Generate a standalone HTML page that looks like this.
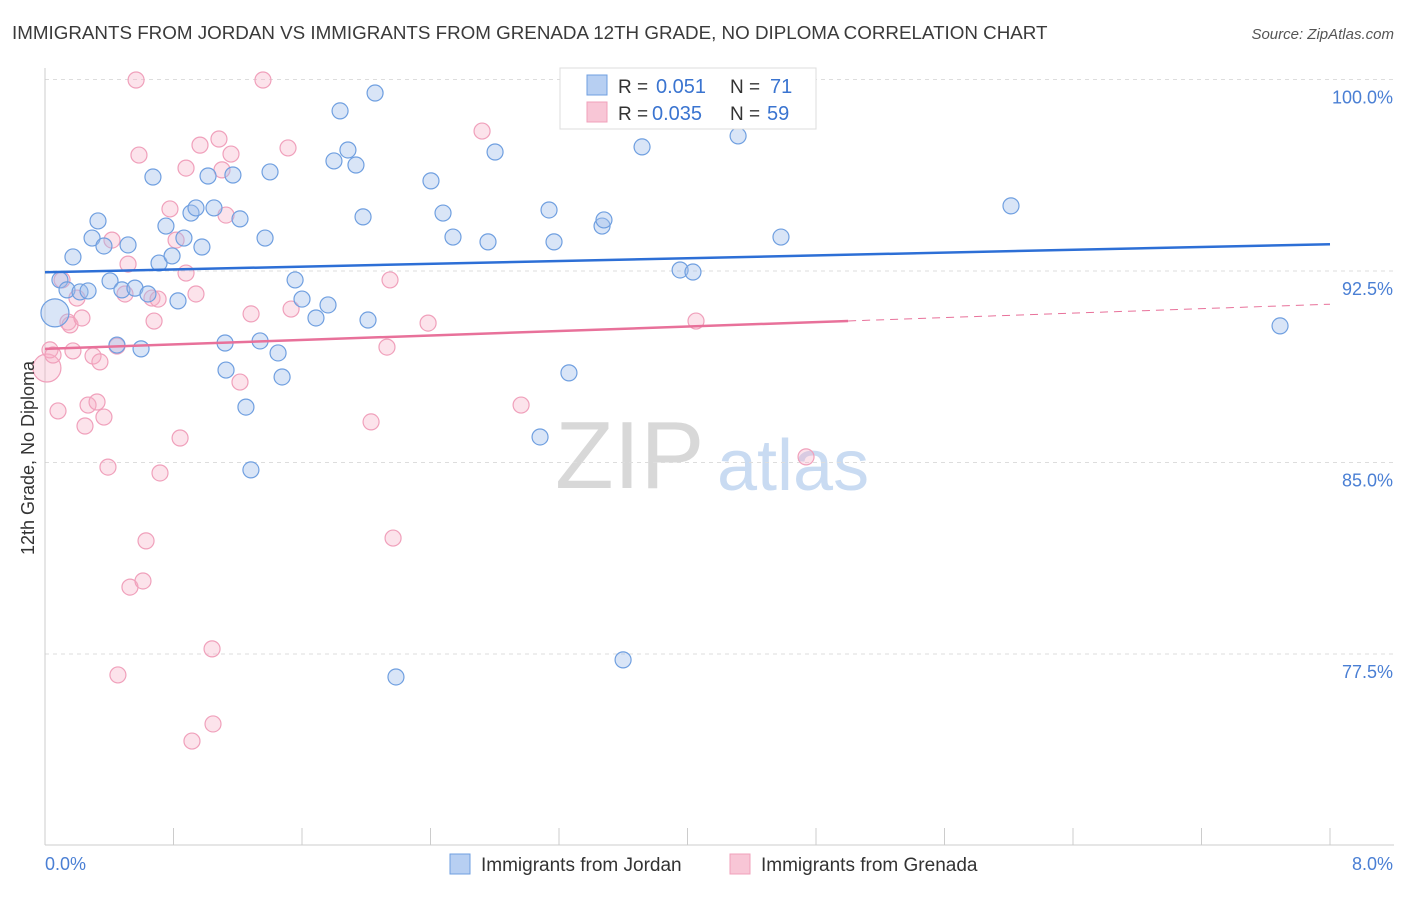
<!DOCTYPE html>
<html><head><meta charset="utf-8"><style>
body{margin:0;background:#fff;font-family:"Liberation Sans",sans-serif;}
svg text{font-family:"Liberation Sans",sans-serif;}
</style></head><body>
<svg id="chart" width="1406" height="892" viewBox="0 0 1406 892" xmlns="http://www.w3.org/2000/svg">
<text x="12" y="39" font-size="18.8" fill="#3a3a3a">IMMIGRANTS FROM JORDAN VS IMMIGRANTS FROM GRENADA 12TH GRADE, NO DIPLOMA CORRELATION CHART</text>
<text x="1394" y="39" font-size="15" fill="#555" text-anchor="end" font-style="italic">Source: ZipAtlas.com</text>
<g>
<text x="555" y="488" font-size="96" fill="#d8d8d8" font-family="Liberation Serif, serif">ZIP</text>
<text x="717" y="490" font-size="72" fill="#c9dbf2">atlas</text>
</g>
<g id="grid"></g>
<g id="axes"></g>
<g id="points"></g>
<g id="lines"></g>
<text transform="translate(34,458) rotate(-90)" font-size="18" fill="#333" text-anchor="middle">12th Grade, No Diploma</text>
<text x="45" y="870" font-size="18" fill="#4a7fd4">0.0%</text>
<text x="1393" y="870" font-size="18" fill="#4a7fd4" text-anchor="end">8.0%</text>
<g>
<rect x="560" y="68" width="256" height="61" fill="#fff" stroke="#ddd"/>
<rect x="587" y="75" width="20" height="20" fill="#b7cff2" stroke="#6f9fe0"/>
<text x="618" y="93" font-size="19" fill="#333">R =</text>
<text x="656" y="93" font-size="20" fill="#3a74d0">0.051</text>
<text x="730" y="93" font-size="19" fill="#333">N =</text>
<text x="770" y="93" font-size="20" fill="#3a74d0">71</text>
<rect x="587" y="102" width="20" height="20" fill="#f8c6d6" stroke="#f0a0bb"/>
<text x="618" y="120" font-size="19" fill="#333">R =</text>
<text x="652" y="120" font-size="20" fill="#3a74d0">0.035</text>
<text x="730" y="120" font-size="19" fill="#333">N =</text>
<text x="767" y="120" font-size="20" fill="#3a74d0">59</text>
</g>
<g>
<rect x="450" y="854" width="20" height="20" fill="#b7cff2" stroke="#6f9fe0"/>
<text x="481" y="871" font-size="19" fill="#333">Immigrants from Jordan</text>
<rect x="730" y="854" width="20" height="20" fill="#f8c6d6" stroke="#f0a0bb"/>
<text x="761" y="871" font-size="19" fill="#333">Immigrants from Grenada</text>
</g>
</svg>
<script>
const yTicks=[100,92.5,85,77.5];
const yTickLabels=["100.0%","92.5%","85.0%","77.5%"];
const xTicks=[0,0.8,1.6,2.4,3.2,4,4.8,5.6,6.4,7.2,8];
const jordanX=[.062,.093,.137,.174,.218,.268,.293,.330,.367,.405,.448,.479,.517,.560,.598,.641,.672,.710,.753,.791,.828,.865,.909,.940,.977,1.015,1.052,1.121,1.127,1.170,1.214,1.251,1.282,1.339,1.370,1.401,1.451,1.476,1.557,1.600,1.687,1.762,1.799,1.837,1.886,1.936,1.980,2.011,2.055,2.185,2.403,2.478,2.540,2.758,2.802,3.082,3.138,3.169,3.262,3.393,3.468,3.480,3.599,3.717,3.954,4.034,4.315,4.582,6.014,7.689];
const jordanY=[90.86,92.15,91.76,93.05,91.68,91.72,93.79,94.46,93.48,92.11,89.60,91.76,93.52,91.83,89.45,91.60,96.18,92.81,94.26,93.09,91.33,93.79,94.77,94.97,93.44,96.22,94.97,89.68,88.62,96.26,94.54,87.17,84.71,89.76,93.79,96.38,89.29,88.35,92.15,91.40,90.66,91.17,96.81,98.77,97.24,96.65,94.62,90.58,99.47,76.60,96.03,94.77,93.83,93.64,97.16,86.00,94.89,93.64,88.51,99.98,94.26,94.50,77.27,97.36,92.54,92.46,97.79,93.83,95.05,90.35];
const grenadaX=[.012,.031,.050,.081,.106,.143,.156,.174,.199,.230,.249,.268,.299,.324,.342,.367,.392,.417,.448,.454,.498,.517,.529,.567,.585,.610,.629,.666,.679,.704,.716,.778,.816,.841,.878,.878,.915,.940,.965,1.083,1.040,1.046,1.102,1.127,1.158,1.214,1.283,1.357,1.513,1.532,2.030,2.148,2.129,2.167,2.385,2.721,2.964,4.053,4.738];
const grenadaY=[88.70,89.41,89.21,87.02,92.15,90.50,90.39,89.37,91.44,90.66,86.43,87.25,89.17,87.37,88.94,86.78,84.82,93.71,89.56,76.68,91.60,92.77,80.12,99.98,97.04,80.36,81.93,91.44,90.54,91.40,84.59,94.93,93.71,85.96,96.53,92.42,74.09,91.60,97.43,97.67,77.70,74.76,96.46,94.69,97.08,88.15,90.82,99.98,97.32,91.01,86.59,92.15,89.52,82.04,90.46,97.98,87.25,90.54,85.22];
const jordanTrend=[92.45,93.55];
const grenadaTrend=[89.45,91.2];
const grenadaSolidEnd=5.0;

const NS="http://www.w3.org/2000/svg";
const X=v=>45+v/8*1285;
const Y=v=>79.5+(100-v)/7.5*191.5;
function mk(tag,attrs,parent){const e=document.createElementNS(NS,tag);for(const k in attrs)e.setAttribute(k,attrs[k]);parent.appendChild(e);return e;}
const grid=document.getElementById('grid'),axes=document.getElementById('axes'),pts=document.getElementById('points'),lines=document.getElementById('lines');
yTicks.forEach((t,i)=>{
  const l=mk('line',{x1:45,x2:1394,y1:Y(t),y2:Y(t),stroke:'#ddd','stroke-dasharray':'4,4'},grid);
  
  
  const tx=mk('text',{x:1393,y:Y(t)+24,'font-size':18,fill:'#4a7fd4','text-anchor':'end'},grid);
  tx.textContent=yTickLabels[i];
  
  
});
const ax=mk('line',{x1:45,x2:45,y1:68,y2:845,stroke:'#ccc'},axes);


const bx=mk('line',{x1:45,x2:1394,y1:845,y2:845,stroke:'#ccc'},axes);


xTicks.forEach(t=>{
  const l=mk('line',{x1:X(t),x2:X(t),y1:828,y2:845,stroke:'#ccc'},axes);
  
  
});
function drawSeries(xs,ys,fill,stroke,name){
  xs.forEach((x,i)=>{
    const c=mk('circle',{cx:X(x),cy:Y(ys[i]),r:i===0?14:8,fill:fill,stroke:stroke,'stroke-width':1.2},pts);
    
    
  });
}
drawSeries(grenadaX,grenadaY,'rgba(245,175,198,0.35)','#f0a0bb','grenada-point');
drawSeries(jordanX,jordanY,'rgba(160,190,235,0.4)','#6f9fe0','jordan-point');
const jl=mk('line',{x1:X(0),y1:Y(jordanTrend[0]),x2:X(8),y2:Y(jordanTrend[1]),stroke:'#2d6fd6','stroke-width':2.5},lines);


const gAt=x=>grenadaTrend[0]+(grenadaTrend[1]-grenadaTrend[0])*x/8;
const gl=mk('line',{x1:X(0),y1:Y(gAt(0)),x2:X(grenadaSolidEnd),y2:Y(gAt(grenadaSolidEnd)),stroke:'#e8719a','stroke-width':2.5},lines);


const gd=mk('line',{x1:X(grenadaSolidEnd),y1:Y(gAt(grenadaSolidEnd)),x2:X(8),y2:Y(gAt(8)),stroke:'#e8719a','stroke-width':1,'stroke-dasharray':'8,6'},lines);


</script>
</body></html>
